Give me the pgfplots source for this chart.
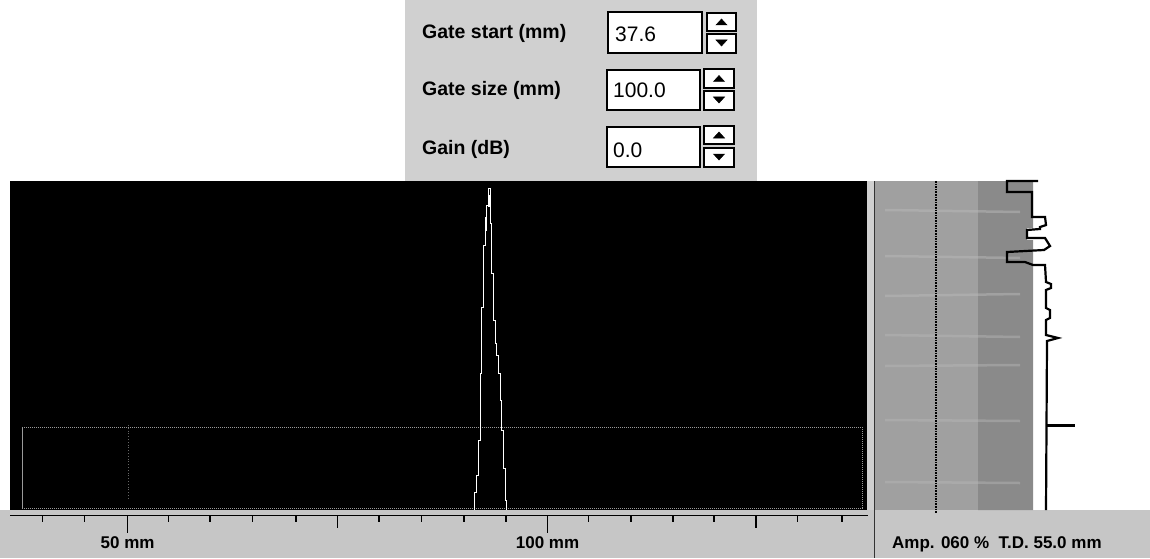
\documentclass[border=0pt]{standalone}
\usepackage{pgfplots}
\pgfplotsset{compat=1.18}
\usepackage{fontspec}
\setmainfont{Liberation Sans}
\usepackage{graphicx}
\definecolor{ctrlgray}{HTML}{D0D0D0}
\definecolor{stripgray}{HTML}{C6C6C6}
\definecolor{panelA}{HTML}{A0A0A0}
\definecolor{panelB}{HTML}{8A8A8A}
\definecolor{streak}{HTML}{B8B8B8}
\definecolor{gatecol}{HTML}{9A9A9A}
\begin{document}
\begin{tikzpicture}
\begin{axis}[x=1pt,y=1pt,y dir=reverse,xmin=0,xmax=1150,ymin=0,ymax=558,
  scale only axis,hide axis,clip=false]
% background
\addplot[fill=white,draw=none] coordinates {(0,0)(1150,0)(1150,558)(0,558)} -- cycle;
% control area
\addplot[fill=ctrlgray,draw=none] coordinates {(405,0)(757,0)(757,181)(405,181)} -- cycle;
% bottom strip
\addplot[fill=stripgray,draw=none] coordinates {(0,510)(1150,510)(1150,558)(0,558)} -- cycle;
% black A-scan panel
\addplot[fill=black,draw=none] coordinates {(10,181)(867,181)(867,510)(10,510)} -- cycle;
% light strip right of black panel
\addplot[fill=ctrlgray,draw=none] coordinates {(867,181)(874,181)(874,510)(867,510)} -- cycle;
% right panel gray
\addplot[fill=panelA,draw=none] coordinates {(875,181)(978,181)(978,510)(875,510)} -- cycle;
\addplot[fill=panelB,draw=none] coordinates {(978,181)(1033,181)(1033,228)(1027,228)(1027,240)(1033,240)(1033,510)(978,510)} -- cycle;
% streaks
\addplot[streak,line width=2.5,opacity=0.5] table[row sep=\\] {x y\\ 885 210\\ 1020 212\\};
\addplot[streak,line width=2.5,opacity=0.5] table[row sep=\\] {x y\\ 885 256\\ 1020 258\\};
\addplot[streak,line width=2.5,opacity=0.5] table[row sep=\\] {x y\\ 885 296\\ 1020 294\\};
\addplot[streak,line width=2.5,opacity=0.45] table[row sep=\\] {x y\\ 885 335\\ 1020 337\\};
\addplot[streak,line width=2.5,opacity=0.45] table[row sep=\\] {x y\\ 885 366\\ 1020 365\\};
\addplot[streak,line width=2.5,opacity=0.45] table[row sep=\\] {x y\\ 885 420\\ 1020 421\\};
\addplot[streak,line width=2.5,opacity=0.45] table[row sep=\\] {x y\\ 885 482\\ 1020 483\\};
% separator line
\addplot[black!80,line width=1.6] table[row sep=\\] {x y\\ 874.5 181\\ 874.5 558\\};
% dotted vertical in right panel
\addplot[black,line width=1.6,densely dotted] table[row sep=\\] {x y\\ 936 181\\ 936 513\\};
% gate rectangle
\addplot[gatecol,line width=1,densely dotted] coordinates {(22,427)(862,427)(862,508)(22,508)} -- cycle;
\addplot[gatecol,line width=1] table[row sep=\\] {x y\\ 22 427\\ 22 508\\};
\addplot[black!60,line width=0.8,dotted] table[row sep=\\] {x y\\ 128 425\\ 128 500\\};
% A-scan echo
\addplot[white,line width=0.8] coordinates {
(474.3,510) (474.3,492) (476.7,492) (476.7,475) (478.3,475) (478.3,440) (480,440) (480,373)
(481.7,373) (481.7,307) (483.3,307) (483.3,245) (485,245) (485,218) (486.7,218) (486.7,205)
(488.3,205) (488.3,188) (490,188) (490,223) (491.7,223) (491.7,273) (493.3,273) (493.3,320)
(495,320) (495,343) (496.7,343) (496.7,355) (498.3,355) (498.3,373) (500,373) (500,400)
(501.7,400) (501.7,430) (503.3,430) (503.3,468) (505,468) (505,500) (506.7,500) (506.7,510)};
\addplot[white,line width=2] table[row sep=\\] {x y\\ 485.5 217\\ 485.5 231\\};
\addplot[white,line width=2] table[row sep=\\] {x y\\ 489 195\\ 489 207\\};
% ruler
\addplot[black,line width=1.6] table[row sep=\\] {x y\\ 10 515.5\\ 868 515.5\\};
\addplot[black,line width=1.4,unbounded coords=jump] table[row sep=\\] {x y\\
42.5 515\\ 42.5 522\\ nan nan\\ 84.4 515\\ 84.4 522\\ nan nan\\
127.6 515\\ 127.6 533\\ nan nan\\ 168.3 515\\ 168.3 522\\ nan nan\\
210 515\\ 210 522\\ nan nan\\ 252.7 515\\ 252.7 522\\ nan nan\\
296 515\\ 296 522\\ nan nan\\ 337.4 515\\ 337.4 528\\ nan nan\\
379 515\\ 379 522\\ nan nan\\ 421.7 515\\ 421.7 522\\ nan nan\\
464 515\\ 464 522\\ nan nan\\ 506 515\\ 506 522\\ nan nan\\
547.5 515\\ 547.5 533\\ nan nan\\ 588.5 515\\ 588.5 522\\ nan nan\\
631 515\\ 631 522\\ nan nan\\ 673 515\\ 673 522\\ nan nan\\
714 515\\ 714 522\\ nan nan\\ 756 515\\ 756 528\\ nan nan\\
797.5 515\\ 797.5 522\\ nan nan\\ 842 515\\ 842 522\\};
% profile line in right panel
\addplot[black,line width=2.2,line join=miter] coordinates {
(1038,181) (1007,181) (1007,192) (1032,192) (1032,217) (1045,217) (1046,225) (1040,227)
(1040,229) (1027,230) (1027,238) (1045,238) (1050,246) (1044,250) (1007,252) (1007,262)
(1025,262) (1033,265) (1045,265) (1046,282) (1051,284) (1051,288) (1046,290) (1046,308)
(1050,310) (1050,318) (1046,320) (1046,335) (1058,338) (1047,341) (1046,510)};
\addplot[black,line width=2.6] table[row sep=\\] {x y\\ 1046 425.7\\ 1075 425.7\\};
% --- controls ---
% text boxes
\addplot[fill=white,draw=black,line width=1.8] coordinates {(608,12)(702,12)(702,53)(608,53)} -- cycle;
\addplot[fill=white,draw=black,line width=1.8] coordinates {(607,70)(700,70)(700,110)(607,110)} -- cycle;
\addplot[fill=white,draw=black,line width=1.8] coordinates {(607,127)(700,127)(700,167)(607,167)} -- cycle;
% spinners
\addplot[fill=white,draw=black,line width=1.6] coordinates {(707,13)(736,13)(736,31)(707,31)} -- cycle;
\addplot[fill=white,draw=black,line width=1.6] coordinates {(707,34)(736,34)(736,53)(707,53)} -- cycle;
\addplot[fill=white,draw=black,line width=1.6] coordinates {(704,69)(734,69)(734,88)(704,88)} -- cycle;
\addplot[fill=white,draw=black,line width=1.6] coordinates {(704,91)(734,91)(734,110)(704,110)} -- cycle;
\addplot[fill=white,draw=black,line width=1.6] coordinates {(704,126)(734,126)(734,144)(704,144)} -- cycle;
\addplot[fill=white,draw=black,line width=1.6] coordinates {(704,148)(734,148)(734,167)(704,167)} -- cycle;
% triangles
\addplot[fill=black,draw=black,line width=0.5] coordinates {(716,25)(727,25)(721.5,19)} -- cycle;
\addplot[fill=black,draw=black,line width=0.5] coordinates {(716,40)(727,40)(721.5,46)} -- cycle;
\addplot[fill=black,draw=black,line width=0.5] coordinates {(713.5,81.5)(724.5,81.5)(719,75.5)} -- cycle;
\addplot[fill=black,draw=black,line width=0.5] coordinates {(713.5,97)(724.5,97)(719,103)} -- cycle;
\addplot[fill=black,draw=black,line width=0.5] coordinates {(713.5,138)(724.5,138)(719,132)} -- cycle;
\addplot[fill=black,draw=black,line width=0.5] coordinates {(713.5,154)(724.5,154)(719,160)} -- cycle;
% labels
\node[anchor=base west,inner sep=0pt,font=\fontsize{19.5}{22}\selectfont\bfseries] at (axis cs:422,39) {Gate start (mm)};
\node[anchor=base west,inner sep=0pt,font=\fontsize{19.5}{22}\selectfont\bfseries] at (axis cs:422,96) {Gate size (mm)};
\node[anchor=base west,inner sep=0pt,font=\fontsize{19.5}{22}\selectfont\bfseries] at (axis cs:422,154) {Gain (dB)};
\node[anchor=base west,inner sep=0pt,font=\fontsize{21}{24}\selectfont] at (axis cs:615,42) {37.6};
\node[anchor=base west,inner sep=0pt,font=\fontsize{21}{24}\selectfont] at (axis cs:613,98) {100.0};
\node[anchor=base west,inner sep=0pt,font=\fontsize{21}{24}\selectfont] at (axis cs:613,157) {0.0};
\node[anchor=base,inner sep=0pt,font=\fontsize{17}{20}\selectfont\bfseries] at (axis cs:127.6,548) {50 mm};
\node[anchor=base,inner sep=0pt,font=\fontsize{17}{20}\selectfont\bfseries] at (axis cs:547.5,548) {100 mm};
\node[anchor=base west,inner sep=0pt,font=\fontsize{17}{20}\selectfont\bfseries] at (axis cs:892,548) {Amp. 060 \%\ \ T.D. 55.0 mm};
\end{axis}
\end{tikzpicture}
\end{document}
